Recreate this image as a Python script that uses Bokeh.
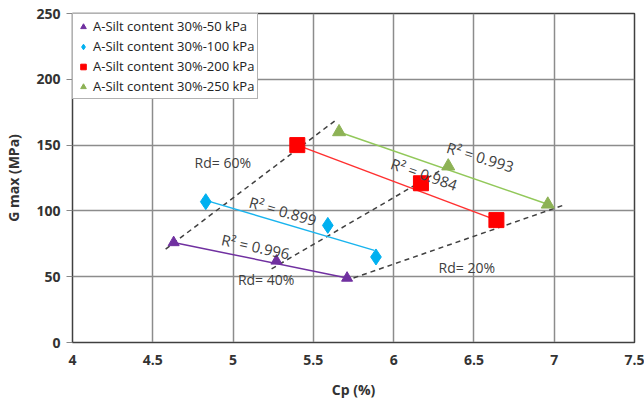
from bokeh.plotting import figure
from bokeh.models import Range1d, Legend, LegendItem
from bokeh.embed import file_html
from bokeh.resources import INLINE
from bokeh.core.properties import value
import math

# ---- data ----
series_names = ["A-Silt content 30%-50 kPa", "A-Silt content 30%-100 kPa",
                "A-Silt content 30%-200 kPa", "A-Silt content 30%-250 kPa"]
cp_50 = [4.63, 5.27, 5.71]
g_50 = [76, 62, 49]
cp_100 = [4.83, 5.59, 5.89]
g_100 = [107, 89, 65]
cp_200 = [5.40, 6.17, 6.64]
g_200 = [150, 121, 93]
cp_250 = [5.66, 6.34, 6.96]
g_250 = [160, 134, 105]

# trend lines (start, end)
trend_50_x = [4.63, 5.71]
trend_50_y = [76, 49]
trend_100_x = [4.83, 5.88]
trend_100_y = [108, 70]
trend_200_x = [5.40, 6.64]
trend_200_y = [150, 93]
trend_250_x = [5.66, 6.96]
trend_250_y = [160, 105]
r2_labels = ["R² = 0.996", "R² = 0.899", "R² = 0.984", "R² = 0.993"]

# relative density dashed lines
rd60_x = [4.58, 5.64]
rd60_y = [71, 169]
rd40_x = [5.24, 6.35]
rd40_y = [56, 135]
rd20_x = [5.75, 7.05]
rd20_y = [49, 104]
rd_labels = ["Rd= 60%", "Rd= 40%", "Rd= 20%"]

x_ticks = [4, 4.5, 5, 5.5, 6, 6.5, 7, 7.5]
y_ticks = [0, 50, 100, 150, 200, 250]

FONT = "Open Sans"
TXT = "#404040"

p = figure(width=644, height=408, output_backend="svg", toolbar_location=None,
           x_range=Range1d(4, 7.5), y_range=Range1d(0, 250),
           min_border_left=72, min_border_right=10, min_border_top=13, min_border_bottom=66)
p.background_fill_color = "white"
p.border_fill_color = "white"
p.outline_line_color = "#404040"
p.outline_line_width = 1.5

p.xaxis.ticker = x_ticks
p.yaxis.ticker = y_ticks
p.xaxis.major_label_overrides = {4: "4", 4.5: "4.5", 5: "5", 5.5: "5.5", 6: "6", 6.5: "6.5", 7: "7", 7.5: "7.5"}
for ax in (p.xaxis[0], p.yaxis[0]):
    ax.major_label_text_font = FONT
    ax.major_label_text_font_size = "14px"
    ax.major_label_text_font_style = "bold"
    ax.major_label_text_color = "#333333"
    ax.axis_label_text_font = FONT
    ax.axis_label_text_font_size = "14px"
    ax.axis_label_text_font_style = "bold"
    ax.axis_label_text_color = "#333333"
    ax.minor_tick_line_color = None
    ax.axis_line_color = "#404040"
    ax.major_tick_line_color = "#888888"
p.xaxis.axis_label = "Cp (%)"
p.yaxis.axis_label = "G max (MPa)"
p.xaxis.major_tick_in = 0
p.xaxis.major_tick_out = 0
p.xaxis.major_label_standoff = 12
p.xaxis.axis_label_standoff = 12
p.yaxis.major_tick_in = 0
p.yaxis.major_tick_out = 6
p.yaxis.major_label_standoff = 6
p.yaxis.axis_label_standoff = 10

p.grid.grid_line_color = "#8c8c8c"
p.grid.grid_line_width = 1.5

# dashed Rd lines
for xs, ys in ((rd60_x, rd60_y), (rd40_x, rd40_y), (rd20_x, rd20_y)):
    p.line(xs, ys, line_color="#404040", line_width=1.5, line_dash="5 4")

# trend lines
p.line(trend_50_x, trend_50_y, line_color="#7030A0", line_width=1.5)
p.line(trend_100_x, trend_100_y, line_color="#19B4EE", line_width=1.5)
p.line(trend_200_x, trend_200_y, line_color="#FF3030", line_width=1.5)
p.line(trend_250_x, trend_250_y, line_color="#92C85A", line_width=1.5)

# markers
r1 = p.scatter(cp_50, g_50, marker="triangle", size=11, fill_color="#7030A0", line_color="#7030A0")
r2 = p.scatter(cp_100, g_100, marker="diamond", size=16, fill_color="#00B0F0", line_color="#00B0F0")
r3 = p.scatter(cp_200, g_200, marker="square", size=15, fill_color="#FF0000", line_color="#FF0000")
r4 = p.scatter(cp_250, g_250, marker="triangle", size=13, fill_color="#8DB255", line_color="#8DB255")

# R² labels
r2_x = [5.14, 5.31, 6.19, 6.54]
r2_y = [73, 100, 128, 141]
r2_ang = [-12, -16, -19, -17]
for lab, x, y, a in zip(r2_labels, r2_x, r2_y, r2_ang):
    p.text(x=[x], y=[y], text=[lab], angle=math.radians(a), text_align="center",
           text_baseline="middle", text_font=value(FONT), text_font_size="15px", text_color=TXT)

# Rd labels
rd_lx = [4.76, 5.03, 6.28]
rd_ly = [137, 48, 57]
for lab, x, y in zip(rd_labels, rd_lx, rd_ly):
    p.text(x=[x], y=[y], text=[lab], text_align="left", text_baseline="middle",
           text_font=value(FONT), text_font_size="14px", text_color=TXT)

legend = Legend(items=[LegendItem(label=series_names[0], renderers=[r1]),
                       LegendItem(label=series_names[1], renderers=[r2]),
                       LegendItem(label=series_names[2], renderers=[r3]),
                       LegendItem(label=series_names[3], renderers=[r4])],
                location="top_left")
legend.margin = 0
legend.padding = 3
legend.spacing = 2
legend.label_text_font = FONT
legend.label_text_font_size = "13px"
legend.label_text_color = "#222222"
legend.label_height = 17
legend.glyph_height = 17
legend.glyph_width = 14
legend.label_standoff = 3
legend.border_line_color = "#666666"
legend.border_line_width = 1.5
legend.background_fill_alpha = 1.0
p.add_layout(legend)

open("out.html", "w").write(file_html(p, INLINE))
